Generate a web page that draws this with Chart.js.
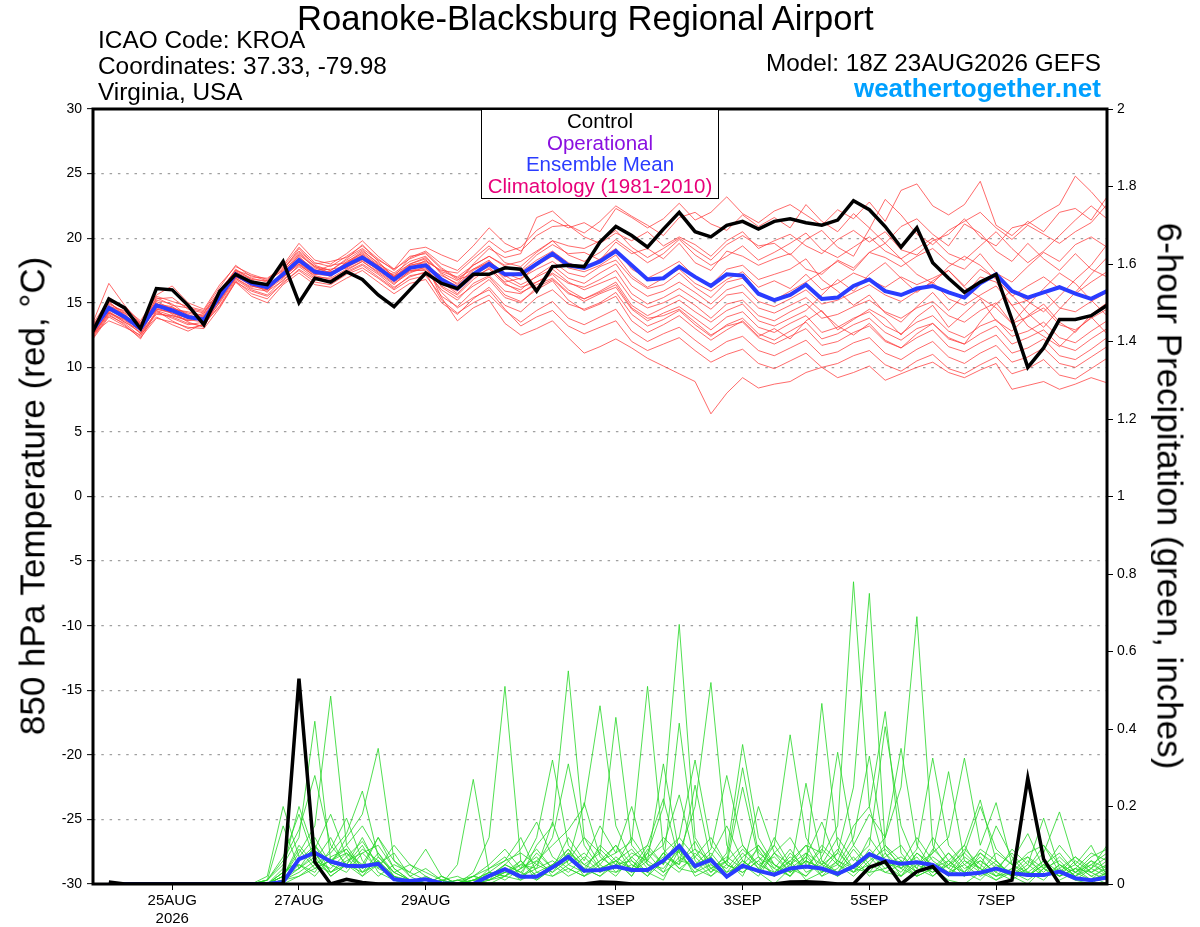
<!DOCTYPE html>
<html>
<head>
<meta charset="utf-8">
<title>KROA GEFS 850 hPa temperature and precipitation</title>
<script src="https://cdn.jsdelivr.net/npm/chart.js@4"></script>
<style>
  body { margin: 0; background: #fff; }
  #wrap { position: relative; width: 1200px; height: 927px; font-family: "Liberation Sans", Arial, sans-serif; color: #000; }
  #chart { position: absolute; left: 0; top: 0; }
  .txt { position: absolute; white-space: nowrap; line-height: 1; }
  .title { left: 297px; top: 1px; font-size: 34.6px; }
  .info { left: 98px; font-size: 24.4px; }
  .right { right: 99px; font-size: 24.3px; text-align: right; }
  .site { right: 99px; top: 75px; font-size: 26px; font-weight: bold; color: #00a0ff; }
  .legend { position: absolute; left: 481px; top: 110px; width: 236px; height: 88px; border: 1px solid #000; border-top: none; background: #fff; text-align: center; font-size: 20.5px; line-height: 21.7px; }
  .ytitle { position: absolute; white-space: nowrap; line-height: 1; top: 496px; }
  .yleft { left: 32px; font-size: 35px; transform: translate(-50%, -50%) rotate(-90deg); }
  .yright { left: 1170px; font-size: 35px; transform: translate(-50%, -50%) rotate(90deg); }
</style>
</head>
<body>
<div id="wrap">
  <canvas id="chart" width="1200" height="927"></canvas>
  <div class="txt title">Roanoke-Blacksburg Regional Airport</div>
  <div class="txt info" style="top:28px">ICAO Code: KROA</div>
  <div class="txt info" style="top:54px">Coordinates: 37.33, -79.98</div>
  <div class="txt info" style="top:80px">Virginia, USA</div>
  <div class="txt right" style="top:51px">Model: 18Z 23AUG2026 GEFS</div>
  <div class="txt site">weathertogether.net</div>
  <div class="legend">
    <div style="color:#000">Control</div>
    <div style="color:#8a10e0">Operational</div>
    <div style="color:#2a3cff">Ensemble Mean</div>
    <div style="color:#e8007a">Climatology (1981-2010)</div>
  </div>
  <div class="ytitle yleft">850 hPa Temperature (red, °C)</div>
  <div class="ytitle yright">6-hour Precipitation (green, inches)</div>
</div>
<script>
// forecast hours from 18Z 23AUG2026, every 6 h
const hours = [0,6,12,18,24,30,36,42,48,54,60,66,72,78,84,90,96,102,108,114,120,126,132,138,144,150,156,162,168,174,180,186,192,198,204,210,216,222,228,234,240,246,252,258,264,270,276,282,288,294,300,306,312,318,324,330,336,342,348,354,360,366,372,378,384];

// date ticks (00Z) on the time axis
const tickHours = [30, 78, 126, 198, 246, 294, 342];
const tickLabels = [["25AUG", "2026"], "27AUG", "29AUG", "1SEP", "3SEP", "5SEP", "7SEP"];

// ---------------- 850 hPa temperature (C) ----------------
const tempControl = [12.8,15.3,14.6,13.0,16.1,16.0,14.8,13.3,15.9,17.2,16.6,16.4,18.2,15.0,16.9,16.6,17.4,16.8,15.6,14.7,16.0,17.3,
  16.5,16.1,17.2,17.2,17.7,17.6,15.9,17.8,17.9,17.8,19.7,20.9,20.2,19.3,20.7,22.0,20.5,20.1,21.0,21.3,20.7,
  21.3,21.5,21.2,21.0,21.4,22.9,22.2,20.9,19.3,20.8,18.1,16.9,15.8,16.6,17.2,13.7,10.0,11.5,13.7,13.7,14.0,14.8];

const tempMean = [12.9,14.6,13.9,13.0,14.8,14.4,13.9,13.7,15.5,17.2,16.5,16.2,17.2,18.3,17.4,17.2,17.9,18.5,17.7,16.8,17.7,17.9,
  16.8,16.1,17.2,18.0,17.2,17.2,18.0,18.8,17.9,17.7,18.2,19.0,17.9,16.8,16.9,17.8,17.0,16.3,17.2,17.1,15.7,
  15.2,15.6,16.4,15.3,15.4,16.3,16.8,15.9,15.6,16.1,16.3,15.8,15.4,16.5,17.2,15.9,15.4,15.8,16.2,15.7,15.3,15.9];

const tempM01 = [13.2,15.0,14.2,12.8,15.2,14.9,14.0,13.5,15.8,17.6,16.8,16.0,17.5,19.2,17.9,17.5,18.4,19.5,18.2,17.0,18.5,19.0,
  18.0,17.5,18.6,19.8,18.9,19.3,20.6,21.4,20.8,21.2,20.5,22.3,21.6,20.8,21.5,22.7,21.4,22.0,23.2,21.9,21.2,
  22.1,22.6,21.8,21.0,22.2,21.5,22.8,21.3,23.7,24.2,22.5,21.8,22.6,24.4,21.0,20.2,21.3,20.5,22.0,22.3,21.4,23.2];
const tempM02 = [12.6,14.3,13.6,13.1,14.4,14.0,13.6,14.1,15.2,16.9,16.2,16.5,17.0,18.0,17.0,16.9,17.6,18.2,17.4,16.5,17.3,17.8,
  17.1,16.5,18.0,19.2,18.5,18.8,21.6,22.1,21.0,20.4,21.3,22.5,21.7,21.0,20.2,21.6,22.0,21.1,20.6,21.8,20.9,
  21.6,20.8,22.6,21.3,20.5,21.9,20.8,19.6,20.9,21.5,20.3,19.4,21.1,20.4,19.0,18.2,19.6,18.4,17.5,18.8,17.6,17.0];
const tempM03 = [13.5,16.5,14.8,13.4,15.6,16.3,15.0,14.5,16.4,17.8,17.2,16.8,17.9,19.6,18.3,18.0,18.8,19.8,18.6,17.6,19.1,19.3,
  18.7,18.2,19.4,20.8,19.6,19.0,20.2,20.9,21.0,20.1,19.6,20.4,19.8,20.5,19.4,20.1,19.5,18.6,19.8,20.5,19.2,
  19.8,20.3,19.4,18.8,19.9,20.6,19.7,20.5,19.1,18.7,19.8,20.3,21.5,20.1,19.4,20.8,21.1,21.9,22.6,24.8,23.6,22.2];
const tempM04 = [12.9,14.8,14.1,12.6,14.7,14.6,14.2,13.9,15.6,17.4,16.6,15.8,17.4,18.8,17.7,17.3,18.0,18.9,17.9,17.1,17.6,18.3,
  17.4,17.0,17.9,18.6,17.8,17.5,18.7,19.5,18.8,18.9,18.3,19.7,18.8,19.2,18.4,19.6,18.1,17.5,19.0,18.6,17.9,
  18.4,18.8,17.6,17.2,18.3,17.7,18.9,18.5,17.8,18.6,19.2,18.1,17.6,18.8,17.3,16.6,17.8,18.9,18.2,19.5,20.1,19.3];
const tempM05 = [13.0,14.6,13.7,13.2,15.0,14.1,13.6,13.8,15.4,17.0,16.4,16.4,17.1,18.1,17.2,17.4,17.7,18.4,17.5,16.6,17.4,17.6,
  16.5,15.9,17.2,17.9,17.0,17.4,18.3,19.0,18.1,17.6,18.4,19.2,17.6,16.9,17.5,18.2,17.0,16.4,17.6,17.9,16.8,
  17.2,17.6,18.4,16.8,15.9,14.8,15.6,14.2,13.5,14.7,15.8,14.4,15.6,17.0,16.6,14.8,13.2,12.4,11.6,12.8,13.9,12.6];
const tempM06 = [12.7,14.5,14.0,12.9,14.9,14.6,14.1,13.6,15.3,17.1,16.7,16.3,17.3,18.5,17.6,17.0,18.2,18.8,17.8,16.9,17.9,18.1,
  16.9,16.3,17.5,18.2,17.3,16.8,17.9,18.6,17.7,17.4,17.9,18.7,17.1,16.2,16.9,17.6,16.5,15.9,16.8,17.4,16.2,
  16.7,16.1,17.2,16.0,16.5,17.3,16.8,16.2,17.0,16.4,16.9,17.5,16.3,17.6,16.9,15.5,16.3,17.0,16.1,15.7,16.6,17.4];
const tempM07 = [12.4,14.1,13.3,12.2,14.3,13.8,13.3,13.5,15.0,16.8,16.0,15.6,16.8,17.8,16.9,16.7,17.4,18.0,17.2,16.2,17.0,17.4,
  16.3,15.6,16.8,17.7,16.6,16.9,17.6,18.2,17.3,17.0,17.8,18.3,16.9,16.1,16.4,17.3,16.2,15.4,16.6,16.9,15.6,
  15.2,15.9,16.6,17.4,18.2,17.5,18.9,19.6,18.4,17.2,16.5,17.8,18.6,17.9,16.8,15.6,14.2,13.1,14.5,15.8,17.2,18.5];
const tempM08 = [13.3,14.9,14.3,13.5,14.6,14.2,13.8,14.2,15.7,17.3,16.3,16.0,16.9,18.2,17.5,17.6,17.8,18.6,17.9,16.8,17.8,18.0,
  16.6,15.7,17.0,17.6,16.4,16.0,17.1,17.9,16.9,16.5,17.3,18.0,16.3,15.5,15.9,16.6,15.8,14.9,16.0,16.4,15.1,
  14.7,15.3,16.0,14.9,15.2,15.8,16.4,15.6,15.1,15.9,16.6,15.3,14.8,15.6,16.3,14.8,15.2,15.9,14.6,14.3,15.1,15.8];
const tempM09 = [12.5,14.3,13.5,12.7,14.2,13.9,13.4,13.2,15.1,16.9,16.1,15.9,16.7,17.9,17.1,16.8,17.5,18.2,17.3,16.4,17.5,17.5,
  16.0,15.2,16.5,17.1,15.9,15.7,16.6,17.3,16.5,16.2,16.8,17.5,15.7,14.9,15.4,16.1,15.3,14.5,15.6,15.8,14.6,
  14.2,14.8,15.4,14.3,13.2,12.5,13.4,12.1,11.5,12.6,13.4,12.2,11.8,13.5,14.9,16.0,15.1,14.3,15.5,16.8,17.9,19.5];
const tempM10 = [13.1,14.7,14.4,13.3,15.1,14.5,14.3,14.0,15.9,17.5,16.9,16.6,17.6,18.9,17.8,17.5,18.3,19.1,18.0,17.3,18.2,18.6,
  17.2,16.4,17.6,18.3,17.1,16.4,17.0,17.6,16.6,16.0,16.5,17.0,15.3,14.6,15.0,15.6,14.8,13.8,14.9,15.2,14.0,
  13.6,14.3,14.9,13.8,14.1,14.7,15.2,14.3,13.8,14.6,15.1,14.0,13.5,14.4,15.0,13.4,13.9,14.6,13.3,12.9,13.8,14.5];
const tempM11 = [12.3,14.0,13.4,12.4,14.4,13.6,13.0,13.3,14.8,16.7,15.7,15.3,16.6,17.5,16.6,16.4,17.2,17.7,16.9,16.0,16.8,17.1,
  15.5,14.7,15.9,16.8,15.4,15.0,16.2,16.8,15.7,15.3,15.9,16.6,14.8,14.0,14.6,15.2,14.3,13.5,14.4,14.9,13.6,
  13.2,13.8,14.4,15.6,16.8,15.9,17.2,18.1,16.9,15.8,16.7,17.5,16.2,15.4,14.6,13.4,14.8,16.1,17.3,16.5,15.2,14.0];
const tempM12 = [12.8,15.4,14.6,13.6,15.5,15.1,14.7,14.4,16.2,17.9,17.0,16.9,17.8,19.3,18.1,17.8,18.6,19.4,18.4,17.5,18.6,18.8,
  17.6,16.8,17.2,17.8,16.5,15.8,16.4,16.9,15.8,15.1,15.7,16.2,14.5,13.6,14.2,14.7,13.8,12.9,13.9,14.3,13.1,
  12.7,13.4,14.0,12.7,13.1,13.8,14.3,13.2,12.6,13.5,14.0,12.8,12.3,13.2,13.7,12.4,12.8,13.5,12.3,11.9,12.8,13.6];
const tempM13 = [12.6,13.6,13.1,12.5,13.9,13.3,12.8,13.4,14.7,16.6,15.5,15.0,16.4,17.3,16.4,16.2,16.9,17.5,16.6,15.7,16.5,16.8,
  15.0,14.1,15.3,16.2,14.8,14.3,15.4,16.0,14.9,14.5,15.0,15.8,14.1,13.2,13.7,14.4,13.3,12.4,13.3,13.8,12.6,
  12.1,12.8,13.5,12.2,12.6,13.3,13.8,12.7,12.1,13.0,13.4,12.3,11.8,12.6,13.2,11.8,12.3,12.9,11.7,11.3,12.2,13.0];
const tempM14 = [13.4,15.2,14.5,13.3,15.3,15.4,14.5,14.2,16.0,17.5,17.1,16.7,17.7,19.0,18.0,18.2,18.5,19.2,18.3,17.6,18.4,18.9,
  17.7,16.9,17.6,18.1,16.8,16.2,16.6,17.2,16.0,15.3,15.8,16.4,14.6,13.8,14.0,14.5,13.5,12.5,13.2,13.5,12.3,
  11.8,12.4,13.0,11.7,12.0,12.7,13.2,12.0,11.5,12.3,12.9,11.6,11.2,11.9,12.5,11.1,11.5,12.2,10.9,10.6,11.4,12.3];
const tempM15 = [12.2,13.9,13.2,12.3,13.8,13.5,13.1,13.0,14.6,16.6,15.9,15.5,16.5,17.6,16.8,16.6,17.3,17.9,17.0,16.1,17.1,17.3,
  15.2,14.2,15.0,15.6,14.4,13.5,14.4,15.1,13.8,13.3,13.9,14.5,12.8,12.0,12.6,13.1,12.1,11.2,12.0,12.4,11.3,
  10.9,11.5,12.1,10.9,11.2,11.9,12.3,11.1,10.6,11.4,12.0,10.8,10.3,11.1,11.7,10.4,10.8,11.5,10.3,10.0,10.8,11.6];
const tempM16 = [12.9,14.4,13.8,12.9,14.5,14.3,13.5,13.1,15.4,17.0,16.5,16.1,17.0,18.0,17.2,17.1,17.8,18.3,17.6,16.7,17.5,17.7,
  15.8,14.6,15.4,16.0,14.5,13.2,13.9,14.4,13.2,12.6,13.1,13.6,12.0,11.3,11.8,12.3,11.3,10.4,11.0,11.4,10.3,
  9.9,10.5,11.1,10.0,10.3,10.9,11.3,10.2,9.7,10.5,11.0,9.9,9.5,10.2,10.8,9.5,9.9,10.6,9.4,9.1,9.9,10.7];
const tempM17 = [12.6,14.2,13.7,12.6,14.1,14.0,13.7,13.5,15.2,17.1,16.3,16.0,17.1,18.2,17.3,17.3,17.9,18.7,17.7,16.9,17.6,18.0,
  15.4,13.6,14.6,15.2,13.4,12.5,13.0,13.6,12.3,11.1,11.6,12.2,11.5,10.7,10.1,9.5,8.9,6.4,8.0,9.2,8.4,
  8.7,8.9,9.6,10.0,9.2,9.6,10.1,9.0,9.5,10.0,10.4,9.6,9.2,9.8,10.3,8.3,8.6,8.9,8.3,8.7,9.2,8.8];
const tempM18 = [13.1,15.1,14.0,13.0,15.4,14.8,14.6,14.3,15.9,17.4,16.8,16.7,17.5,18.6,17.4,17.9,18.1,18.7,17.5,17.2,18.0,18.4,
  16.2,15.4,16.3,17.0,15.6,15.1,16.0,16.7,15.2,14.4,14.9,15.5,13.6,12.7,13.3,14.0,13.0,12.1,12.9,13.6,12.4,
  13.0,12.2,13.6,14.4,12.9,13.7,14.5,13.8,12.5,13.9,14.8,13.1,14.2,15.3,13.6,12.8,14.0,14.9,13.5,12.7,14.1,15.0];
const tempM19 = [12.8,14.6,14.2,13.4,14.9,14.7,13.9,13.7,15.6,17.2,16.4,16.2,17.3,18.4,17.3,17.4,17.7,18.6,17.8,17.0,17.9,18.2,
  17.5,17.3,18.4,19.4,18.1,17.8,18.9,19.8,18.7,18.2,18.9,19.9,19.0,18.1,18.8,19.9,18.7,17.9,18.6,19.4,18.3,
  18.9,19.6,20.4,19.1,18.5,19.3,20.1,19.0,18.4,19.2,20.0,18.8,18.3,19.4,20.5,19.2,18.1,19.0,20.2,21.4,22.5,21.5];
const tempM20 = [12.5,14.2,13.5,12.9,14.5,14.2,13.8,13.9,15.5,17.0,16.6,16.3,17.2,18.7,17.8,17.3,18.1,19.0,18.1,17.0,18.0,18.5,
  17.3,16.7,17.9,18.6,17.9,18.2,19.0,19.8,19.4,19.2,19.8,20.6,19.3,18.5,19.2,20.0,19.1,18.3,19.5,20.2,19.4,
  19.6,18.7,19.9,20.6,19.3,18.6,20.7,23.0,21.8,20.3,19.5,20.6,21.3,22.0,20.8,19.9,21.0,20.3,19.6,20.5,21.2,22.6];

const tempMembers = [tempM01, tempM02, tempM03, tempM04, tempM05, tempM06, tempM07, tempM08, tempM09, tempM10,
  tempM11, tempM12, tempM13, tempM14, tempM15, tempM16, tempM17, tempM18, tempM19, tempM20];

// ---------------- 6-hour precipitation (in) ----------------
const precipControl = [null,0.005,0,0,0,0,0,0,0,0,0,0,0,0.53,0.057,0,0.012,0.004,0,0,0,0,0,0,0,0,0,0,0,0,0,0,0.005,0.004,
  0,0,0,0,0,0,0,0,0,0,0.005,0.006,0.004,0,0,0.043,0.058,0,0.032,0.045,0,0,0,0,0.01,0.273,0.064,0,0,0,0];

const precipMean = [null,0,0,0,0,0,0,0,0,0,0,0,
  0.005,0.064,0.081,0.058,0.047,0.046,0.052,0.012,0.008,
  0.012,0.002,0,0,0.021,0.038,0.019,0.019,0.043,0.07,
  0.034,0.036,0.045,0.036,0.036,0.06,0.098,0.046,0.062,0.019,
  0.047,0.034,0.024,0.04,0.045,0.04,0.026,0.045,0.077,0.06,
  0.052,0.056,0.049,0.025,0.025,0.029,0.04,0.028,0.023,0.023,
  0.032,0.015,0.01,0.017];

const precipM01 = [null,0,0,0,0,0,0,0,0,0,0,
  0,0.02,0.08,0.15,0.485,0.1,0.04,0.06,0.01,0,
  0,0,0,0.03,0.12,0.51,0.06,0.02,0.05,0.09,
  0.03,0.1,0.06,0.02,0.08,0.2,0.67,0.12,0.05,0.02,
  0.06,0.03,0,0.04,0.02,0.07,0.15,0.78,0.2,0.05,
  0.02,0.08,0.04,0.01,0,0.03,0.06,0.02,0.05,0.17,
  0.04,0.01,0,0.03];
const precipM02 = [null,0,0,0,0,0,0,0,0,0,0,
  0.01,0.05,0.12,0.42,0.06,0.09,0.03,0.08,0.02,0,
  0.01,0,0,0,0.04,0.07,0.02,0.1,0.15,0.55,
  0.12,0.05,0.02,0.07,0.03,0.01,0.09,0.04,0.02,0.06,
  0.1,0.04,0.02,0.06,0.01,0.03,0.08,0.25,0.75,0.1,
  0.04,0.02,0.09,0.05,0.1,0.217,0.06,0.02,0,0.04,
  0.02,0.06,0.03,0.01];
const precipM03 = [null,0,0,0,0,0,0,0,0,0,0,
  0,0.03,0.06,0.1,0.05,0.12,0.18,0.35,0.06,0.02,
  0,0.01,0,0.02,0.01,0.05,0.03,0.08,0.04,0.12,
  0.06,0.15,0.08,0.11,0.51,0.09,0.04,0.03,0.07,0.02,
  0.05,0.02,0.08,0.03,0.06,0.02,0.04,0.1,0.18,0.12,
  0.25,0.69,0.1,0.04,0.02,0.06,0.03,0.01,0.04,0.08,
  0.186,0.05,0.02,0];
const precipM04 = [null,0,0,0,0,0,0,0,0,0,0,
  0,0.01,0.04,0.07,0.02,0.05,0.1,0.03,0.01,0,
  0.02,0,0.05,0.27,0.03,0.02,0.06,0.01,0.04,0.08,
  0.02,0.05,0.1,0.03,0.06,0.12,0.08,0.2,0.52,0.1,
  0.04,0.07,0.02,0.05,0.1,0.03,0.06,0.15,0.2,0.445,
  0.08,0.03,0.05,0.02,0.07,0.04,0.01,0.03,0.02,0.05,
  0.02,0.04,0.08,0.06];
const precipM05 = [null,0,0,0,0,0,0,0,0,0,0,
  0,0.02,0.1,0.05,0.08,0.13,0.24,0.07,0.03,0.01,
  0,0,0.01,0,0.02,0.04,0.01,0.06,0.1,0.14,
  0.2,0.46,0.15,0.06,0.03,0.08,0.05,0.11,0.04,0.02,
  0.06,0.03,0.08,0.12,0.05,0.466,0.1,0.04,0.07,0.03,
  0.05,0.02,0.04,0.08,0.03,0.01,0.05,0.02,0.06,0.03,
  0.07,0.03,0.05,0.08];
const precipM06 = [null,0,0,0,0,0,0,0,0,0,0,
  0.01,0.06,0.14,0.28,0.1,0.05,0.12,0.04,0.02,0,
  0.01,0,0,0.02,0.05,0.09,0.04,0.12,0.32,0.1,
  0.05,0.08,0.03,0.07,0.1,0.05,0.415,0.09,0.06,0.03,
  0.08,0.04,0.1,0.385,0.12,0.05,0.03,0.07,0.02,0.06,
  0.04,0.09,0.325,0.1,0.05,0.02,0.04,0.08,0.03,0.01,
  0.05,0.02,0.04,0.02];
const precipM07 = [null,0,0,0,0,0,0,0,0,0,0,
  0,0.04,0.2,0.08,0.03,0.07,0.02,0.05,0.01,0,
  0,0.02,0,0.01,0.03,0.06,0.08,0.05,0.12,0.31,
  0.1,0.04,0.06,0.02,0.09,0.05,0.12,0.07,0.03,0.08,
  0.36,0.12,0.05,0.02,0.06,0.04,0.09,0.03,0.05,0.1,
  0.06,0.03,0.08,0.12,0.325,0.1,0.21,0.05,0.02,0.06,
  0.03,0.01,0.04,0.07];
const precipM08 = [null,0,0,0,0,0,0,0,0,0,0,
  0.02,0.2,0.07,0.12,0.05,0.03,0.08,0.1,0.04,0.01,
  0,0,0.01,0,0.02,0.03,0.06,0.02,0.05,0.07,
  0.04,0.09,0.05,0.12,0.06,0.31,0.08,0.03,0.05,0.02,
  0.07,0.1,0.04,0.02,0.08,0.05,0.12,0.06,0.1,0.406,
  0.15,0.05,0.08,0.29,0.06,0.03,0.01,0.04,0.02,0.05,
  0.08,0.03,0.01,0.05];
const precipM09 = [null,0,0,0,0,0,0,0,0,0,0,
  0,0.01,0.05,0.03,0.09,0.17,0.06,0.02,0.05,0.03,
  0.01,0,0,0.02,0.01,0.03,0.05,0.09,0.04,0.06,
  0.12,0.08,0.43,0.1,0.05,0.02,0.07,0.04,0.08,0.03,
  0.05,0.09,0.03,0.06,0.1,0.08,0.34,0.1,0.05,0.03,
  0.02,0.06,0.03,0.05,0.08,0.04,0.02,0.06,0.13,0.04,
  0.01,0.03,0.06,0.02];
const precipM10 = [null,0,0,0,0,0,0,0,0,0,0,
  0,0.03,0.06,0.09,0.18,0.07,0.11,0.05,0.08,0.02,
  0.04,0.01,0,0,0.02,0.05,0.09,0.16,0.07,0.04,
  0.02,0.06,0.1,0.05,0.03,0.08,0.12,0.32,0.1,0.05,
  0.03,0.06,0.02,0.08,0.04,0.1,0.06,0.03,0.07,0.12,
  0.35,0.1,0.04,0.06,0.02,0.08,0.05,0.03,0.01,0.04,
  0.06,0.02,0.05,0.03];
const precipM11 = [null,0,0,0,0,0,0,0,0,0,0,
  0,0.02,0.09,0.04,0.06,0.1,0.15,0.08,0.03,0.05,
  0.02,0,0,0.01,0,0.02,0.04,0.06,0.03,0.08,
  0.05,0.03,0.07,0.04,0.1,0.22,0.06,0.09,0.03,0.06,
  0.3,0.08,0.05,0.02,0.07,0.03,0.05,0.12,0.33,0.08,
  0.04,0.07,0.02,0.05,0.03,0.09,0.06,0.02,0.04,0.1,
  0.03,0.05,0.02,0.04];
const precipM12 = [null,0,0,0,0,0,0,0,0,0,0,
  0.01,0.07,0.18,0.06,0.12,0.04,0.09,0.06,0.02,0,
  0,0.01,0.02,0,0.03,0.02,0.05,0.04,0.16,0.05,
  0.08,0.04,0.06,0.09,0.04,0.07,0.05,0.255,0.06,0.04,
  0.09,0.05,0.07,0.03,0.26,0.06,0.02,0.05,0.08,0.04,
  0.06,0.03,0.07,0.04,0.09,0.05,0.02,0.03,0.07,0.02,
  0.04,0.07,0.03,0.06];
const precipM13 = [null,0,0,0,0,0,0,0,0,0,0,
  0,0.03,0.05,0.02,0.07,0.09,0.04,0.12,0.06,0.03,
  0.09,0.02,0,0.01,0.02,0.04,0.02,0.05,0.03,0.06,
  0.21,0.07,0.04,0.08,0.06,0.03,0.1,0.05,0.09,0.28,
  0.1,0.05,0.03,0.07,0.04,0.09,0.05,0.02,0.06,0.09,
  0.05,0.12,0.06,0.03,0.08,0.2,0.09,0.05,0.03,0.02,
  0.05,0.03,0.07,0.09];
const precipM14 = [null,0,0,0,0,0,0,0,0,0,0,
  0,0.01,0.03,0.06,0.04,0.08,0.05,0.12,0.04,0.01,
  0,0,0.01,0.02,0.04,0.06,0.12,0.03,0.05,0.02,
  0.04,0.02,0.05,0.03,0.07,0.1,0.23,0.06,0.02,0.05,
  0.25,0.07,0.04,0.09,0.03,0.05,0.08,0.04,0.12,0.06,
  0.03,0.08,0.05,0.02,0.06,0.04,0.15,0.07,0.02,0.05,
  0.02,0.04,0.01,0.03];
const precipM15 = [null,0,0,0,0,0,0,0,0,0,0,
  0,0.02,0.04,0.1,0.03,0.05,0.02,0.07,0.03,0.01,
  0,0,0,0.01,0.03,0.01,0.04,0.07,0.02,0.05,
  0.03,0.06,0.08,0.2,0.05,0.04,0.09,0.02,0.04,0.07,
  0.04,0.2,0.08,0.05,0.02,0.06,0.03,0.09,0.04,0.07,
  0.1,0.04,0.12,0.06,0.03,0.07,0.02,0.04,0.08,0.1,
  0.05,0.02,0.06,0.04];
const precipM16 = [null,0,0,0,0,0,0,0,0,0,0,
  0,0,0.02,0.05,0.03,0.06,0.08,0.04,0.1,0.05,
  0.03,0.01,0,0,0.01,0.03,0.02,0.04,0.06,0.03,
  0.07,0.03,0.05,0.06,0.02,0.08,0.04,0.07,0.12,0.05,
  0.03,0.06,0.1,0.04,0.07,0.16,0.05,0.03,0.09,0.05,
  0.07,0.04,0.02,0.06,0.1,0.03,0.08,0.05,0.07,0.04,
  0.1,0.05,0.1,0.02];
const precipM17 = [null,0,0,0,0,0,0,0,0,0,0,
  0.01,0.15,0.04,0.08,0.02,0.05,0.03,0.06,0.02,0,
  0.01,0,0,0.01,0.02,0.05,0.03,0.01,0.04,0.09,
  0.04,0.02,0.06,0.04,0.08,0.03,0.06,0.05,0.07,0.15,
  0.06,0.03,0.12,0.05,0.08,0.02,0.06,0.04,0.03,0.08,
  0.02,0.05,0.03,0.08,0.04,0.06,0.03,0.09,0.05,0.02,
  0.03,0.07,0.04,0.1];
const precipM18 = [null,0,0,0,0,0,0,0,0,0,0,
  0,0.01,0.02,0.04,0.06,0.08,0.03,0.05,0.02,0.01,
  0,0.02,0,0,0.01,0.02,0.01,0.03,0.02,0.04,
  0.02,0.04,0.03,0.05,0.02,0.06,0.03,0.08,0.04,0.06,
  0.02,0.1,0.05,0.03,0.06,0.04,0.02,0.05,0.03,0.04,
  0.06,0.02,0.04,0.03,0.05,0.08,0.04,0.02,0.03,0.06,
  0.02,0.04,0.03,0.05];

const precipMembers = [precipM01, precipM02, precipM03, precipM04, precipM05, precipM06, precipM07, precipM08, precipM09,
  precipM10, precipM11, precipM12, precipM13, precipM14, precipM15, precipM16, precipM17, precipM18];

// ---------------- build datasets ----------------
function points(values) {
  return hours.map((h, i) => ({ x: h, y: values[i] }));
}

const datasets = [];

// control on top, then mean, members underneath
datasets.push({ data: points(tempControl), yAxisID: "y", borderColor: "#000", borderWidth: 3.5, order: 0 });
datasets.push({ data: points(precipControl), yAxisID: "y1", borderColor: "#000", borderWidth: 3.5, order: 0 });
datasets.push({ data: points(tempMean), yAxisID: "y", borderColor: "#2a3cff", borderWidth: 4, order: 1 });
datasets.push({ data: points(precipMean), yAxisID: "y1", borderColor: "#2a3cff", borderWidth: 4, order: 1 });

tempMembers.forEach(m => {
    datasets.push({ data: points(m), yAxisID: "y", borderColor: "rgba(255,60,60,0.85)", borderWidth: 0.9, order: 2 });
});
precipMembers.forEach(m => {
    datasets.push({ data: points(m), yAxisID: "y1", borderColor: "rgba(40,215,40,0.9)", borderWidth: 0.9, order: 2 });
});

// black frame around the plot area
const framePlugin = {
    id: "frame",
    afterDraw(chart) {
        const { ctx, chartArea } = chart;
        ctx.save();
        ctx.lineWidth = 3;
        ctx.strokeStyle = "#000";
        ctx.strokeRect(chartArea.left, chartArea.top, chartArea.right - chartArea.left, chartArea.bottom - chartArea.top);
        ctx.restore();
    }
};

Chart.defaults.font.family = "'Liberation Sans', Arial, sans-serif";
Chart.defaults.color = "#000";

new Chart(document.getElementById("chart"), {
    type: "line",
    data: { datasets: datasets },
    options: {
        responsive: false,
        animation: false,
        layout: { padding: { top: 109, left: 0, right: 0, bottom: 0 } },
        elements: { point: { radius: 0 }, line: { tension: 0 } },
        plugins: { legend: { display: false }, tooltip: { enabled: false } },
        scales: {
            x: {
                type: "linear",
                min: 0,
                max: 384,
                afterBuildTicks: s => { s.ticks = tickHours.map(v => ({ value: v })); },
                afterFit: s => { s.height = 43; },
                grid: { drawOnChartArea: false, tickLength: 6, tickColor: "#000", tickWidth: 1 },
                border: { display: false },
                ticks: {
                    autoSkip: false,
                    maxRotation: 0,
                    padding: 2,
                    font: { size: 15 },
                    color: "#000",
                    callback: (v, i) => tickLabels[i]
                }
            },
            y: {
                position: "left",
                min: -30,
                max: 30,
                afterFit: s => { s.width = 93; },
                ticks: { stepSize: 5, padding: 5, font: { size: 14 }, color: "#000" },
                grid: {
                    color: c => (c.tick && Math.abs(c.tick.value) === 30) ? "rgba(0,0,0,0)" : "#a0a0a0",
                    lineWidth: 1.3,
                    tickColor: "#000",
                    tickLength: 6,
                    tickWidth: 1
                },
                border: { display: false, dash: [2.5, 5.8] }
            },
            y1: {
                position: "right",
                min: 0,
                max: 2,
                afterFit: s => { s.width = 93; },
                ticks: {
                    stepSize: 0.2,
                    padding: 4,
                    font: { size: 14 },
                    color: "#000",
                    callback: v => String(Number(v.toFixed(1)))
                },
                grid: { drawOnChartArea: false, tickColor: "#000", tickLength: 6, tickWidth: 1 },
                border: { display: false }
            }
        }
    },
    plugins: [framePlugin]
});
</script>
</body>
</html>
